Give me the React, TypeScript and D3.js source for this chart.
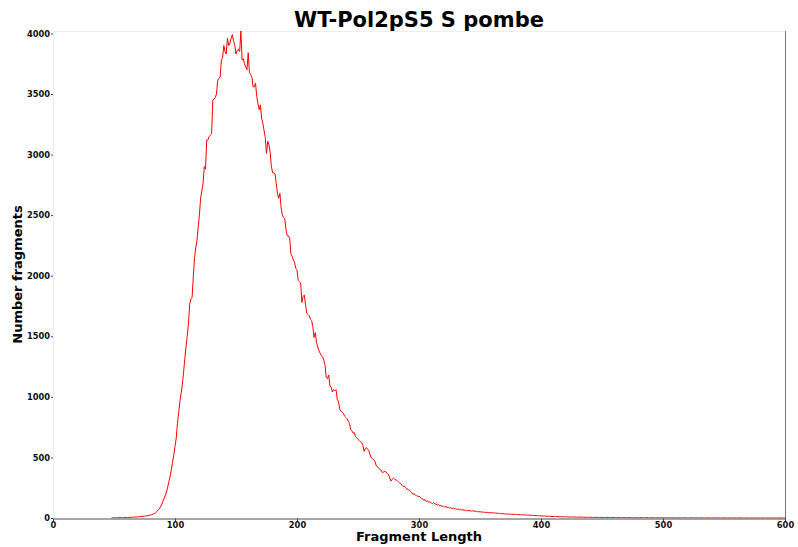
import React, { useEffect, useRef } from "react";
import * as d3 from "d3";

const title = "WT-Pol2pS5 S pombe";
const xLabel = "Fragment Length";
const yLabel = "Number fragments";
const xTicks = [0, 100, 200, 300, 400, 500, 600];
const yTicks = [0, 500, 1000, 1500, 2000, 2500, 3000, 3500, 4000];

// fragment lengths start at 48 (one value per integer length)
const startLength = 48;
const counts = [
  // 48-60
  1, 1, 2, 2, 2, 2, 3, 3, 3, 3, 4, 4, 4,
  // 61-75
  4, 5, 5, 6, 6, 7, 8, 8, 9, 10, 11, 12, 13, 14, 15,
  // 76-85
  16, 18, 20, 22, 25, 28, 32, 37, 43, 52,
  // 86-100
  62, 75, 90, 108, 135, 160, 185, 215, 255, 300, 345, 400, 460, 520, 590,
  // 101-120
  660, 780, 870, 960, 1030, 1100, 1200, 1310, 1410, 1500, 1600, 1760, 1810, 1820, 1990, 2150, 2230, 2290, 2400, 2500,
  // 121-140
  2640, 2700, 2760, 2900, 2880, 3120, 3120, 3150, 3160, 3170, 3450, 3460, 3470, 3500, 3610, 3630, 3640, 3780, 3800, 3900,
  // 141-160
  3850, 3830, 3960, 3900, 3920, 3960, 3990, 3940, 3900, 3830, 3860, 3870, 3850, 4020, 3780, 3790, 3750, 3720, 3700, 3840,
  // 161-180
  3680, 3660, 3640, 3560, 3560, 3590, 3480, 3420, 3370, 3410, 3300, 3260, 3200, 3140, 3010, 3110, 3080, 3020, 2900, 2850,
  // 181-200
  2850, 2840, 2760, 2680, 2640, 2680, 2560, 2500, 2480, 2470, 2380, 2330, 2330, 2310, 2180, 2160, 2130, 2110, 2060, 2050,
  // 201-220
  1960, 1950, 1940, 1780, 1830, 1840, 1760, 1690, 1680, 1670, 1640, 1630, 1580, 1490, 1530, 1450, 1410, 1380, 1360, 1340,
  // 221-240
  1330, 1300, 1260, 1160, 1150, 1180, 1090, 1080, 1040, 1060, 1050, 1060, 980, 960, 900, 880, 875, 865, 840, 830,
  // 241-260
  820, 800, 780, 730, 720, 700, 705, 670, 660, 650, 640, 630, 625, 600, 550, 575, 580, 565, 555, 520,
  // 261-280
  495, 490, 480, 465, 430, 425, 410, 400, 395, 375, 380, 385, 380, 365, 360, 330, 305, 320, 330, 320,
  // 281-300
  315, 310, 300, 290, 285, 270, 260, 265, 250, 240, 235, 230, 220, 210, 195, 200, 190, 185, 178, 180,
  // 301-320
  172, 160, 158, 145, 152, 138, 142, 130, 134, 124, 120, 127, 115, 114, 106, 112, 100, 104, 96, 97,
  // 321-340
  90, 94, 86, 90, 82, 85, 78, 82, 75, 78, 72, 75, 68, 72, 66, 69, 63, 66, 60, 64,
  // 341-360
  58, 62, 56, 61, 55, 57, 52, 55, 50, 53, 48, 51, 46, 49, 45, 47, 43, 46, 42, 44,
  // 361-380
  42, 40, 42, 38, 39, 36, 38, 34, 36, 33, 35, 32, 33, 31, 33, 30, 31, 29, 30, 28,
  // 381-400
  28, 28, 27, 27, 26, 26, 25, 25, 24, 24, 23, 22, 22, 21, 20, 20, 19, 18, 18, 17,
  // 401-420
  17, 16, 17, 15, 15, 14, 15, 13, 13, 12, 13, 12, 11, 12, 10, 11, 10, 10, 9, 10,
  // 421-440
  9, 9, 8, 9, 8, 8, 9, 7, 8, 7, 7, 8, 6, 7, 7, 6, 6, 7, 5, 6,
  // 441-460
  6, 5, 6, 5, 5, 6, 4, 5, 5, 4, 5, 4, 4, 5, 4, 4, 3, 4, 4, 3,
  // 461-480
  4, 3, 3, 4, 3, 3, 3, 2, 3, 3, 2, 3, 3, 2, 3, 2, 2, 3, 2, 2,
  // 481-500
  2, 3, 2, 2, 2, 2, 3, 2, 2, 1, 2, 2, 2, 1, 2, 2, 1, 2, 2, 1,
  // 501-520
  2, 1, 2, 1, 1, 2, 1, 2, 1, 1, 1, 2, 1, 1, 1, 1, 2, 1, 1, 1,
  // 521-540
  1, 1, 1, 2, 1, 1, 1, 1, 1, 1, 1, 1, 1, 0, 1, 1, 1, 1, 0, 1,
  // 541-560
  1, 1, 0, 1, 1, 1, 0, 1, 1, 0, 1, 1, 0, 1, 0, 1, 1, 0, 1, 0,
  // 561-580
  1, 0, 1, 1, 0, 1, 0, 0, 1, 0, 1, 0, 0, 1, 0, 1, 0, 0, 1, 0,
  // 581-600
  0, 1, 0, 0, 1, 0, 0, 1, 0, 0, 1, 0, 0, 0, 1, 0, 0, 1, 0, 0,
];
const lengths = counts.map((_, i) => startLength + i);

const W = 798;
const H = 547;
const M = { left: 53, right: 785, top: 31, bottom: 518 };

export default function App() {
  const ref = useRef<SVGSVGElement>(null);

  useEffect(() => {
    const svg = d3.select(ref.current);
    svg.selectAll("*").remove();
    const font = "'DejaVu Sans', Verdana, sans-serif";

    const x = d3.scaleLinear().domain([0, 600]).range([M.left, M.right]);
    const yMax = d3.max(counts) as number;
    const y = d3.scaleLinear().domain([0, yMax]).range([M.bottom, M.top]);

    svg.append("rect").attr("width", W).attr("height", H).attr("fill", "#fff");

    // frame
    svg.append("line").attr("x1", M.left).attr("x2", M.right).attr("y1", M.top + 0.5).attr("y2", M.top + 0.5)
      .attr("stroke", "#eeeeee").attr("stroke-width", 1);
    svg.append("line").attr("x1", M.left + 0.5).attr("x2", M.left + 0.5).attr("y1", M.top).attr("y2", M.bottom)
      .attr("stroke", "#eeeeee").attr("stroke-width", 1);
    svg.append("line").attr("x1", M.right + 0.5).attr("x2", M.right + 0.5).attr("y1", M.top).attr("y2", M.bottom + 1)
      .attr("stroke", "#777").attr("stroke-width", 1);

    // data line
    const line = d3.line<number>()
      .x((_, i) => x(lengths[i]))
      .y((d) => y(d));
    svg.append("path").datum(counts).attr("d", line as any)
      .attr("fill", "none").attr("stroke", "#ff0000").attr("stroke-width", 1);

    // x axis
    const xAxis = d3.axisBottom(x).tickValues(xTicks).tickFormat(d3.format("d")).tickSize(3).tickSizeOuter(0);
    const gx = svg.append("g").attr("transform", `translate(0,${M.bottom + 0.5})`).call(xAxis);
    gx.select(".domain").attr("stroke", "#888").attr("stroke-width", 1.5);
    gx.selectAll(".tick line").attr("stroke", "#444");
    gx.selectAll("text").attr("font-family", font).attr("font-weight", "bold").attr("font-size", 8.3)
      .attr("fill", "#111").attr("dy", "0.71em").attr("y", 4);

    // y axis
    const yAxis = d3.axisLeft(y).tickValues(yTicks).tickFormat(d3.format("d")).tickSize(2).tickSizeOuter(0);
    const gy = svg.append("g").attr("transform", `translate(${M.left},0)`).call(yAxis);
    gy.select(".domain").remove();
    gy.selectAll(".tick line").attr("stroke", "#444");
    gy.selectAll("text").attr("font-family", font).attr("font-weight", "bold").attr("font-size", 8.3)
      .attr("fill", "#111").attr("x", -3);

    // titles
    svg.append("text").attr("x", 419).attr("y", 27).attr("text-anchor", "middle")
      .attr("font-family", font).attr("font-weight", "bold").attr("font-size", 21).attr("fill", "#000")
      .text(title);
    svg.append("text").attr("x", 419).attr("y", 541).attr("text-anchor", "middle")
      .attr("font-family", font).attr("font-weight", "bold").attr("font-size", 13).attr("fill", "#000")
      .text(xLabel);
    svg.append("text").attr("transform", `translate(22,${(M.top + M.bottom) / 2}) rotate(-90)`)
      .attr("text-anchor", "middle")
      .attr("font-family", font).attr("font-weight", "bold").attr("font-size", 13).attr("fill", "#000")
      .text(yLabel);
  }, []);

  return (
    <svg ref={ref} width={W} height={H}
      style={{ position: "absolute", left: 0, top: 0, display: "block" }} />
  );
}
